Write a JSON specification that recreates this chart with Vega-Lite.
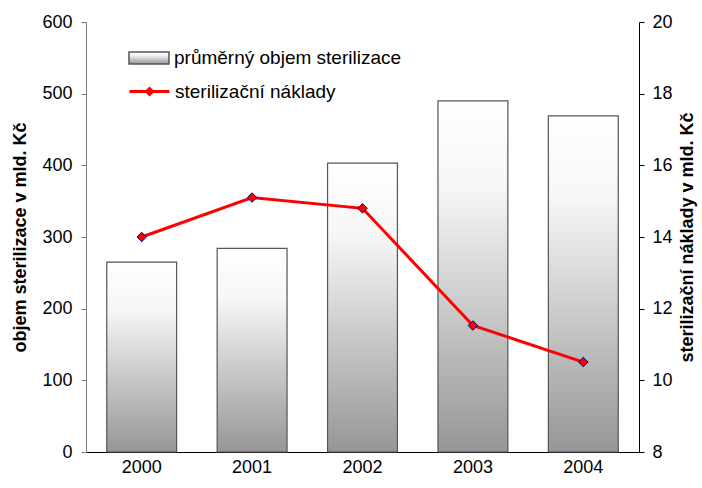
{
  "$schema": "https://vega.github.io/schema/vega-lite/v6.json",
  "width": 553,
  "height": 430,
  "autosize": "none",
  "padding": {"left": 86, "top": 22, "right": 63, "bottom": 36},
  "background": "white",
  "config": {
    "view": {"stroke": null},
    "font": "Liberation Sans",
    "axis": {
      "labelFont": "Liberation Sans", "labelFontSize": 18, "labelColor": "#000",
      "titleFont": "Liberation Sans", "titleFontSize": 18, "titleFontWeight": "bold", "titleColor": "#000",
      "grid": false, "domainColor": "#000", "tickColor": "#000"
    },
    "legend": {"labelFont": "Liberation Sans", "labelFontSize": 19, "labelColor": "#000", "padding": 0, "labelLimit": 0}
  },
  "data": {
    "values": [
      {"year": "2000", "objem": 265, "naklady": 14.0},
      {"year": "2001", "objem": 284, "naklady": 15.1},
      {"year": "2002", "objem": 403, "naklady": 14.8},
      {"year": "2003", "objem": 490, "naklady": 11.53},
      {"year": "2004", "objem": 469, "naklady": 10.51}
    ]
  },
  "layer": [
    {
      "mark": {
        "type": "bar", "stroke": "#555", "strokeWidth": 1.2,
        "fill": {"gradient": "linear", "x1": 0, "y1": 0, "x2": 0, "y2": 1,
          "stops": [
            {"offset": 0, "color": "#ffffff"},
            {"offset": 0.25, "color": "#f6f6f6"},
            {"offset": 1, "color": "#969696"}
          ]}
      },
      "encoding": {
        "x": {
          "field": "year", "type": "ordinal",
          "scale": {"paddingInner": 0.367, "paddingOuter": 0.188},
          "axis": {"title": null, "labelAngle": 0, "ticks": false, "labelPadding": 6, "domainColor": "#000"}
        },
        "y": {
          "field": "objem", "type": "quantitative",
          "scale": {"domain": [0, 600], "nice": false},
          "axis": {
            "values": [0, 100, 200, 300, 400, 500, 600],
            "title": "objem sterilizace v mld. Kč",
            "tickSize": 5, "labelPadding": 9, "titlePadding": 12,
            "domainColor": "#777", "tickColor": "#777"
          }
        },
        "opacity": {
          "datum": "průměrný objem sterilizace", "type": "nominal",
          "scale": {"range": [1]},
          "legend": {
            "orient": "none", "legendX": 42, "legendY": 15, "title": null,
            "symbolType": "M-1,-0.3H1V0.3H-1Z", "symbolSize": 1600,
            "labelOffset": 4,
            "encode": {"symbols": {"update": {
              "fill": {"value": {"gradient": "linear", "x1": 0, "y1": 0, "x2": 0, "y2": 1,
                "stops": [{"offset": 0, "color": "#ffffff"}, {"offset": 1, "color": "#a8a8a8"}]}},
              "stroke": {"value": "#333"},
              "strokeWidth": {"value": 1},
              "opacity": {"value": 1}
            }}}
          }
        }
      }
    },
    {
      "encoding": {
        "x": {"field": "year", "type": "ordinal"},
        "y": {
          "field": "naklady", "type": "quantitative",
          "scale": {"domain": [8, 20], "nice": false},
          "axis": {
            "orient": "right",
            "values": [8, 10, 12, 14, 16, 18, 20],
            "title": "sterilizační náklady v mld. Kč",
            "tickSize": 5, "labelPadding": 8, "titlePadding": 24, "titleAngle": 270
          }
        }
      },
      "layer": [
        {
          "mark": {"type": "line", "color": "#ff0000", "strokeWidth": 3},
          "encoding": {
            "stroke": {
              "datum": "sterilizační náklady", "type": "nominal",
              "scale": {"range": ["#ff0000"]},
              "legend": {
                "orient": "none", "legendX": 42, "legendY": 48, "title": null,
                "symbolType": "M-1,0H1M0,-0.15L0.15,0L0,0.15L-0.15,0Z", "symbolSize": 1600,
                "symbolStrokeWidth": 3, "labelOffset": 4,
                "encode": {"symbols": {"update": {"fill": {"value": "#ff0000"}}}}
              }
            }
          }
        },
        {
          "mark": {"type": "point", "shape": "diamond", "filled": true, "fill": "#ff0000", "stroke": "#000080", "strokeWidth": 1, "size": 90, "opacity": 1}
        }
      ]
    }
  ],
  "resolve": {"scale": {"y": "independent", "opacity": "independent", "stroke": "independent"}}
}
